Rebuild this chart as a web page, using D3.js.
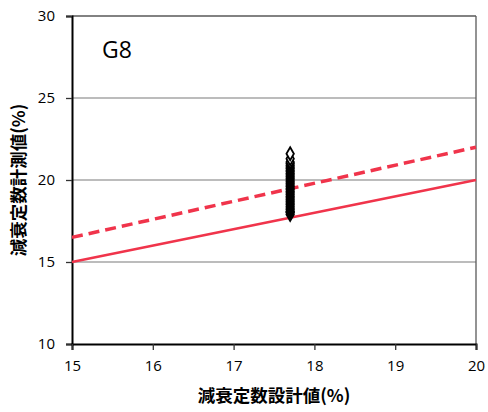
<!DOCTYPE html>
<html><head><meta charset="utf-8">
<script src="https://cdn.jsdelivr.net/npm/d3@7"></script>
<style>body{margin:0;background:#fff}svg{display:block}</style>
</head><body>
<svg id="c" width="488" height="412"></svg>
<script>
const xTicks = [15,16,17,18,19,20];
const yTicks = [10,15,20,25,30];
const pointX = [17.7];
const pointY = [17.9,18.0,18.05,18.1,18.2,18.3,18.4,18.5,18.6,18.7,18.8,18.9,19.0,19.1,19.2,19.3,19.4,19.5,19.6,19.7,19.8,19.9,20.0,20.1,20.2,20.3,20.4,20.5,20.6,20.7,20.8,20.9,21.0,21.1,21.3,21.6];
const solidLine = [[15,15],[20,20]];
const dashedLine = [[15,16.5],[20,22]];
const label = "G8";
const xTitle = "減衰定数設計値(%)";
const yTitle = "減衰定数計測値(%)";

const svg = d3.select("#c");
const L=72,R=476,T=16,B=344;
const x = d3.scaleLinear().domain([15,20]).range([L,R]);
const y = d3.scaleLinear().domain([10,30]).range([B,T]);
const font = "'Open Sans','Noto Sans',sans-serif";

// gridlines
svg.append("g").selectAll("line").data(yTicks.filter(d=>d>10 && d<30)).join("line")
  .attr("x1",L).attr("x2",R).attr("y1",d=>y(d)).attr("y2",d=>y(d))
  .attr("stroke","#a6a6a6").attr("stroke-width",1.3);
// top & right border
svg.append("line").attr("x1",L).attr("x2",R).attr("y1",y(30)).attr("y2",y(30)).attr("stroke","#595959").attr("stroke-width",1.3);
svg.append("line").attr("x1",R).attr("x2",R).attr("y1",T).attr("y2",B).attr("stroke","#595959").attr("stroke-width",1.3);

// axes
const yAxis = d3.axisLeft(y).tickValues(yTicks).tickFormat(d3.format("d")).tickSize(6).tickPadding(6);
const gy = svg.append("g").attr("transform",`translate(${L},0)`).call(yAxis);
gy.select(".domain").attr("stroke","#000").attr("stroke-width",2);
gy.selectAll(".tick line").attr("stroke","#333").attr("stroke-width",1.3);
gy.selectAll("text").attr("font-family",font).attr("font-size",15).attr("fill","#000").attr("x",-17);

const xAxis = d3.axisBottom(x).tickValues(xTicks).tickFormat(d3.format("d")).tickSize(6).tickPadding(10);
const gx = svg.append("g").attr("transform",`translate(0,${B})`).call(xAxis);
gx.select(".domain").attr("stroke","#000").attr("stroke-width",2);
gx.selectAll(".tick line").attr("stroke","#333").attr("stroke-width",1.3);
gx.selectAll("text").attr("font-family",font).attr("font-size",15).attr("fill","#000");

// lines
const line = d3.line().x(d=>x(d[0])).y(d=>y(d[1]));
svg.append("path").attr("d",line(solidLine)).attr("fill","none").attr("stroke","#f0344b").attr("stroke-width",2.5);
svg.append("path").attr("d",line(dashedLine)).attr("fill","none").attr("stroke","#f0344b").attr("stroke-width",3.5).attr("stroke-dasharray","11,6");

// points
const sym = d3.symbol().type(d3.symbolDiamond).size(48);
svg.append("g").selectAll("path").data(pointY).join("path")
  .attr("d",sym).attr("transform",d=>`translate(${x(pointX[0])},${y(d)})`)
  .attr("fill","#fff").attr("stroke","#000").attr("stroke-width",1.8);

// label
svg.append("text").attr("x",102).attr("y",58).attr("font-family",font).attr("font-size",23).text(label);

// titles
svg.append("text").attr("x",274).attr("y",402).attr("text-anchor","middle")
  .attr("font-family","'Noto Sans CJK JP',sans-serif").attr("font-weight","bold").attr("font-size",17.5).text(xTitle);
svg.append("text").attr("transform",`translate(25,180) rotate(-90)`).attr("text-anchor","middle")
  .attr("font-family","'Noto Sans CJK JP',sans-serif").attr("font-weight","bold").attr("font-size",17.5).text(yTitle);
</script>
</body></html>
